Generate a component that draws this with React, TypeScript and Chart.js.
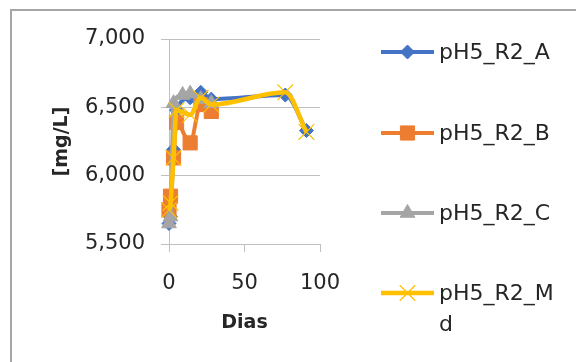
import { useEffect, useRef } from 'react';
import { Chart, registerables } from 'chart.js';
import { drawPoint } from 'chart.js/helpers';

Chart.register(...registerables);

// ---- data ----
const seriesNames = ['pH5_R2_A', 'pH5_R2_B', 'pH5_R2_C', 'pH5_R2_Md'];

const daysA = [0, 1, 3, 5, 14, 21, 28, 77, 91];
const valuesA = [5650, 5700, 6190, 6480, 6570, 6610, 6560, 6590, 6330];

const daysB = [0, 1, 3, 5, 14, 21, 28];
const valuesB = [5750, 5850, 6130, 6390, 6240, 6520, 6470];

const daysC = [0, 1, 3, 9, 14, 21, 28];
const valuesC = [5650, 5700, 6530, 6590, 6600, 6560, 6530];

const daysMd = [0, 1, 3, 5, 14, 21, 28, 77, 91];
const valuesMd = [5750, 5800, 6130, 6480, 6445, 6570, 6520, 6610, 6320];

const yMin = 5500;
const yMax = 7000;
const yStep = 500;
const xMin = 0;
const xMax = 100;
const xStep = 50;

const xTitle = 'Dias';
const yTitle = '[mg/L]';

const FONT = "'DejaVu Sans', sans-serif";
const TEXT = '#262626';
const GRID = '#c0c0c0';

const toPoints = (xs: number[], ys: number[]) => xs.map((x, i) => ({ x, y: ys[i] }));

const styles = [
  { color: '#4472C4', pointStyle: 'rectRot', radius: 7, lw: 4, pbw: 1 },
  { color: '#ED7D31', pointStyle: 'rect', radius: 10, lw: 4, pbw: 1 },
  { color: '#A5A5A5', pointStyle: 'triangle', radius: 8.5, lw: 4, pbw: 1 },
  { color: '#FFC000', pointStyle: 'crossRot', radius: 11, lw: 4.5, pbw: 1.2 },
];

const legendPlugin = {
  id: 'excelLegend',
  beforeDraw(chart: any) {
    const ctx = chart.ctx;
    ctx.save();
    ctx.fillStyle = '#ffffff';
    ctx.fillRect(0, 0, chart.width, chart.height);
    ctx.strokeStyle = '#a6a6a6';
    ctx.lineWidth = 2;
    ctx.beginPath();
    ctx.moveTo(11, chart.height);
    ctx.lineTo(11, 10);
    ctx.lineTo(chart.width, 10);
    ctx.stroke();
    ctx.restore();
  },
  afterDraw(chart: any) {
    const ctx = chart.ctx;
    const rows = [52, 133, 213, 293];
    const lineX0 = 381;
    const lineX1 = 434;
    const textX = 439;
    const maxW = 122;
    chart.data.datasets.forEach((ds: any, i: number) => {
      const y = rows[i];
      ctx.save();
      ctx.strokeStyle = ds.borderColor;
      ctx.lineWidth = ds.borderWidth;
      ctx.beginPath();
      ctx.moveTo(lineX0, y);
      ctx.lineTo(lineX1, y);
      ctx.stroke();
      ctx.fillStyle = ds.pointBackgroundColor;
      ctx.strokeStyle = ds.pointBorderColor;
      ctx.lineWidth = ds.pointBorderWidth;
      drawPoint(ctx, {
        pointStyle: ds.pointStyle,
        radius: ds.pointRadius,
        rotation: 0,
        borderWidth: ds.pointBorderWidth,
      } as any, (lineX0 + lineX1) / 2, y);
      ctx.font = `22px ${FONT}`;
      ctx.fillStyle = TEXT;
      ctx.textBaseline = 'middle';
      ctx.textAlign = 'left';
      const lines: string[] = [];
      let cur = '';
      for (const ch of String(ds.label)) {
        if (ctx.measureText(cur + ch).width > maxW && cur) {
          lines.push(cur);
          cur = ch;
        } else cur += ch;
      }
      if (cur) lines.push(cur);
      lines.forEach((ln, k) => ctx.fillText(ln, textX, y + 1 + k * 31));
      ctx.restore();
    });
  },
};

export default function App() {
  const ref = useRef<HTMLCanvasElement | null>(null);

  useEffect(() => {
    if (!ref.current) return;
    const data = [
      toPoints(daysA, valuesA),
      toPoints(daysB, valuesB),
      toPoints(daysC, valuesC),
      toPoints(daysMd, valuesMd),
    ];
    const chart = new Chart(ref.current, {
      type: 'scatter',
      data: {
        datasets: data.map((d, i) => ({
          label: seriesNames[i],
          data: d,
          showLine: true,
          borderColor: styles[i].color,
          backgroundColor: styles[i].color,
          borderWidth: styles[i].lw,
          pointStyle: styles[i].pointStyle as any,
          pointRadius: styles[i].radius,
          pointHoverRadius: styles[i].radius,
          pointBackgroundColor: styles[i].color,
          pointBorderColor: styles[i].color,
          pointBorderWidth: styles[i].pbw,
          cubicInterpolationMode: 'monotone' as any,
          tension: 0.4,
          clip: false as any,
          order: 3 - i,
        })),
      },
      options: {
        animation: false,
        responsive: false,
        maintainAspectRatio: false,
        events: [],
        layout: { padding: { left: 41, top: 39, right: 256, bottom: 0 } },
        plugins: {
          legend: { display: false },
          tooltip: { enabled: false },
        },
        scales: {
          x: {
            type: 'linear',
            min: xMin,
            max: xMax,
            ticks: {
              stepSize: xStep,
              padding: 19,
              color: TEXT,
              font: { family: FONT, size: 21 },
              callback: (v: any) => String(v),
            },
            grid: { drawOnChartArea: false, drawTicks: true, tickLength: 8, color: GRID },
            border: { color: GRID, width: 1 },
            title: {
              display: true,
              text: xTitle,
              color: TEXT,
              font: { family: FONT, size: 19, weight: 'bold' },
              padding: { top: 0, bottom: 28 },
            },
            afterFit: (s: any) => {
              s.height = 118;
            },
          },
          y: {
            type: 'linear',
            min: yMin,
            max: yMax,
            ticks: {
              stepSize: yStep,
              padding: 16,
              color: TEXT,
              font: { family: FONT, size: 21 },
              callback: (v: any) => Number(v).toLocaleString('en-US'),
            },
            grid: { drawTicks: true, tickLength: 8, color: GRID },
            border: { color: GRID, width: 1 },
            title: {
              display: true,
              text: yTitle,
              color: TEXT,
              font: { family: FONT, size: 19, weight: 'bold' },
              padding: { top: 10, bottom: 0 },
            },
            afterFit: (s: any) => {
              s.width = 128;
            },
          },
        },
      },
      plugins: [legendPlugin],
    });
    return () => chart.destroy();
  }, []);

  return (
    <div style={{ position: 'fixed', left: 0, top: 0, width: 576, height: 362, overflow: 'hidden', background: '#fff' }}>
      <canvas ref={ref} width={576} height={362} style={{ display: 'block', width: 576, height: 362 }} />
    </div>
  );
}
